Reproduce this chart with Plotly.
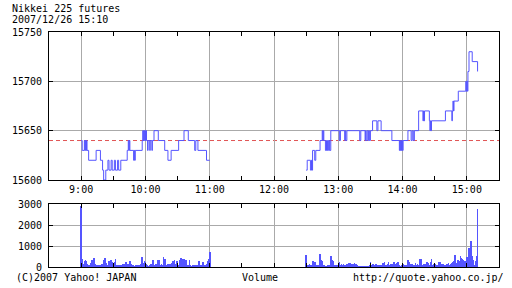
import pandas as pd
import plotly.graph_objects as go

DAY = "2007-12-26 "
title_lines = ["Nikkei 225 futures", "2007/12/26 15:10"]
hour_ticks = ["09:00", "10:00", "11:00", "12:00", "13:00", "14:00", "15:00"]
hour_labels = ["9:00", "10:00", "11:00", "12:00", "13:00", "14:00", "15:00"]
half_ticks = ["08:30", "09:30", "10:30", "11:30", "12:30", "13:30", "14:30", "15:30"]
price_ticks = [15600, 15650, 15700, 15750]
vol_ticks = [0, 1000, 2000, 3000]
prev_close = 15640

price_times = [
    "09:00", "09:01", "09:03", "09:03:30", "09:04", "09:04:30", "09:05", "09:05:30",
    "09:07", "09:14", "09:18", "09:20", "09:21", "09:23", "09:25", "09:26", "09:28",
    "09:29", "09:31", "09:32", "09:34", "09:35", "09:37", "09:43", "09:44", "09:44:30",
    "09:45", "09:45:30", "09:49", "09:49:30", "09:50", "09:50:30", "09:57", "09:57:30",
    "09:58", "09:58:30", "09:59", "09:59:30", "10:00", "10:00:30", "10:01", "10:02",
    "10:02:30", "10:04", "10:04:30", "10:06", "10:06:30", "10:08", "10:12", "10:18",
    "10:21", "10:24", "10:31", "10:36", "10:40", "10:46", "10:47", "10:49", "10:57",
    "11:00", "11:01",
    "12:30", "12:31", "12:34", "12:35", "12:35:30", "12:36", "12:38", "12:39", "12:43",
    "12:45", "12:45:30", "12:46", "12:46:30", "12:48", "12:49", "12:49:30", "12:50",
    "12:51", "12:51:30", "12:52", "12:53", "13:01", "13:02", "13:06", "13:06:30",
    "13:07", "13:08", "13:20", "13:21", "13:25", "13:25:30", "13:26", "13:27", "13:28",
    "13:28:30", "13:29", "13:30", "13:32", "13:36", "13:37", "13:40", "13:50", "13:57",
    "13:57:30", "13:58", "13:58:30", "13:59", "13:59:30", "14:00", "14:00:30", "14:05",
    "14:08", "14:09", "14:10", "14:11", "14:15", "14:19", "14:19:30", "14:20", "14:20:30",
    "14:25", "14:25:30", "14:26", "14:26:30", "14:27", "14:40", "14:46", "14:46:30",
    "14:47", "14:47:30", "14:48", "14:52", "14:59", "14:59:30", "15:00", "15:00:30",
    "15:01", "15:02", "15:05", "15:10",
]
price_values = [
    15640, 15630, 15640, 15630, 15640, 15630, 15640, 15630,
    15620, 15630, 15620, 15610, 15600, 15610, 15620, 15610, 15620,
    15610, 15620, 15610, 15620, 15610, 15620, 15630, 15640, 15630,
    15640, 15630, 15620, 15630, 15620, 15630, 15640, 15650,
    15640, 15650, 15640, 15650, 15640, 15650, 15640, 15630,
    15640, 15630, 15640, 15630, 15640, 15650, 15640, 15630,
    15620, 15630, 15640, 15650, 15640, 15630, 15640, 15630, 15620,
    15620, None,
    15610, 15620, 15610, 15620, 15610, 15630, 15620, 15630, 15640,
    15650, 15640, 15650, 15640, 15630, 15640, 15630, 15640,
    15630, 15640, 15630, 15650, 15640, 15650, 15640, 15650,
    15640, 15650, 15640, 15650, 15640, 15650, 15640, 15650, 15640,
    15650, 15640, 15650, 15660, 15650, 15660, 15650, 15640, 15630,
    15640, 15630, 15640, 15630, 15640, 15630, 15640, 15650,
    15640, 15650, 15640, 15650, 15670, 15660, 15670, 15660, 15670,
    15660, 15650, 15660, 15650, 15660, 15670, 15660, 15670,
    15680, 15670, 15680, 15690, 15700, 15690, 15700, 15690,
    15710, 15730, 15720, 15710,
]

# per-minute volume, 9:00-11:00
vol_morning = [
    2900, 400, 120, 270, 320, 270, 160, 60, 100, 190, 320, 150, 430, 160, 110, 80,
    60, 110, 80, 160, 120, 350, 410, 190, 110, 60, 290, 190, 350, 240, 110, 260,
    365, 100, 60, 90, 80, 60, 90, 140, 120, 60, 220, 90, 150, 270, 270, 150,
    60, 110, 40, 60, 30, 80, 60, 110, 150, 490, 180, 270, 250, 150, 60, 40,
    90, 140, 120, 350, 60, 90, 130, 60, 320, 350, 60, 120, 90, 460, 365, 90,
    60, 120, 90, 160, 90, 200, 270, 350, 150, 300, 270, 110, 350, 430, 200, 400,
    380, 150, 350, 110, 60, 320, 90, 40, 80, 60, 90, 70, 90, 40, 300, 60,
    40, 110, 220, 80, 60, 150, 300, 370, 700,
]
# per-minute volume, 12:30-15:10
vol_afternoon = [
    590, 60, 110, 160, 80, 60, 300, 270, 220, 60, 110, 60, 40, 630, 350, 270,
    60, 110, 40, 30, 60, 110, 60, 510, 350, 270, 110, 110, 60, 40, 90, 220,
    60, 160, 60, 130, 60, 40, 160, 60, 190, 180, 140, 60, 160, 180, 160, 120,
    60, 30, 40, 30, 40, 30, 30, 40, 30, 40, 30, 60, 240, 60, 130, 160,
    90, 130, 90, 60, 40, 60, 110, 60, 190, 240, 110, 60, 140, 220, 60, 140,
    160, 60, 220, 130, 60, 190, 220, 90, 40, 60, 110, 130, 60, 90, 60, 350,
    220, 90, 160, 130, 90, 60, 190, 60, 130, 60, 380, 380, 90, 60, 130, 130,
    60, 220, 190, 60, 250, 380, 90, 130, 160, 40, 60, 90, 250, 220, 60, 160,
    130, 90, 60, 160, 130, 190, 90, 130, 190, 220, 290, 590, 130, 190, 320, 270,
    510, 430, 380, 350, 300, 220, 480, 380, 890, 590, 1230, 520, 350, 60, 270, 510,
    2770,
]

BLUE = "rgb(85,85,255)"
RED = "rgb(225,85,85)"
GRID = "#aaaaaa"
FONT = "DejaVu Sans Mono"

def ts(t):
    return pd.Timestamp(DAY + t)

vol_times = list(pd.date_range(DAY + "09:00", periods=len(vol_morning), freq="min")) + \
            list(pd.date_range(DAY + "12:30", periods=len(vol_afternoon), freq="min"))
vol_values = vol_morning + vol_afternoon

fig = go.Figure()
fig.add_trace(go.Scatter(
    x=[ts(t) for t in price_times], y=price_values, mode="lines",
    line=dict(shape="hv", color=BLUE, width=1), connectgaps=False,
    xaxis="x", yaxis="y", hoverinfo="skip", showlegend=False))
fig.add_trace(go.Bar(
    x=vol_times, y=vol_values, width=36000,
    marker=dict(color=BLUE, line=dict(width=0)),
    xaxis="x2", yaxis="y2", showlegend=False))

W, H = 512, 288
L, R, T, B = 42, 12, 32, 21
PH = H - T - B
PW = W - L - R

def py(p):
    return (H - B - p) / PH

def px(p):
    return (p - L) / PW

xr = [ts("08:30"), ts("15:30")]
common_x = dict(
    range=xr, tickvals=[ts(t) for t in hour_ticks], showgrid=True, gridcolor=GRID,
    gridwidth=1, showline=True, linecolor="black", linewidth=1, mirror="ticks",
    ticks="inside", ticklen=4, tickcolor="black", zeroline=False,
    minor=dict(tickvals=[ts(t) for t in half_ticks], ticks="inside", ticklen=4,
               tickcolor="black", showgrid=False),
)
common_y = dict(
    showgrid=True, gridcolor=GRID, gridwidth=1, showline=True, linecolor="black",
    linewidth=1, mirror="ticks", ticks="inside", ticklen=4, tickcolor="black",
    zeroline=False, tickfont=dict(family=FONT, size=10, color="black"),
    ticklabelstandoff=4, tickformat="d",
)

fig.update_layout(
    width=W, height=H, margin=dict(l=L, r=R, t=T, b=B),
    paper_bgcolor="white", plot_bgcolor="white",
    font=dict(family=FONT, size=10, color="black"),
    bargap=0,
    xaxis=dict(**common_x, anchor="y", domain=[0, 1], ticktext=hour_labels,
               tickfont=dict(family=FONT, size=10, color="black")),
    yaxis=dict(**common_y, anchor="x", domain=[py(180), 1], range=[15600, 15750],
               tickvals=price_ticks),
    xaxis2=dict(**common_x, anchor="y2", domain=[0, 1], showticklabels=False),
    yaxis2=dict(**common_y, anchor="x2", domain=[0, py(204)], range=[0, 3000],
                tickvals=vol_ticks),
    shapes=[dict(type="line", xref="x domain", yref="y", x0=0, x1=1,
                 y0=prev_close, y1=prev_close, layer="below",
                 line=dict(color=RED, width=1, dash="4px,3px"))],
    annotations=[
        dict(text=title_lines[0], xref="paper", yref="paper", x=px(2), y=py(9),
             xanchor="left", yanchor="middle", showarrow=False),
        dict(text=title_lines[1], xref="paper", yref="paper", x=px(2), y=py(19),
             xanchor="left", yanchor="middle", showarrow=False),
        dict(text="(C)2007 Yahoo! JAPAN", xref="paper", yref="paper", x=px(6), y=py(277),
             xanchor="left", yanchor="middle", showarrow=False),
        dict(text="Volume", xref="paper", yref="paper", x=px(236), y=py(277),
             xanchor="left", yanchor="middle", showarrow=False),
        dict(text="http://quote.yahoo.co.jp/", xref="paper", yref="paper", x=px(507),
             y=py(277), xanchor="right", yanchor="middle", showarrow=False),
    ],
)

fig.write_html("out.html")
